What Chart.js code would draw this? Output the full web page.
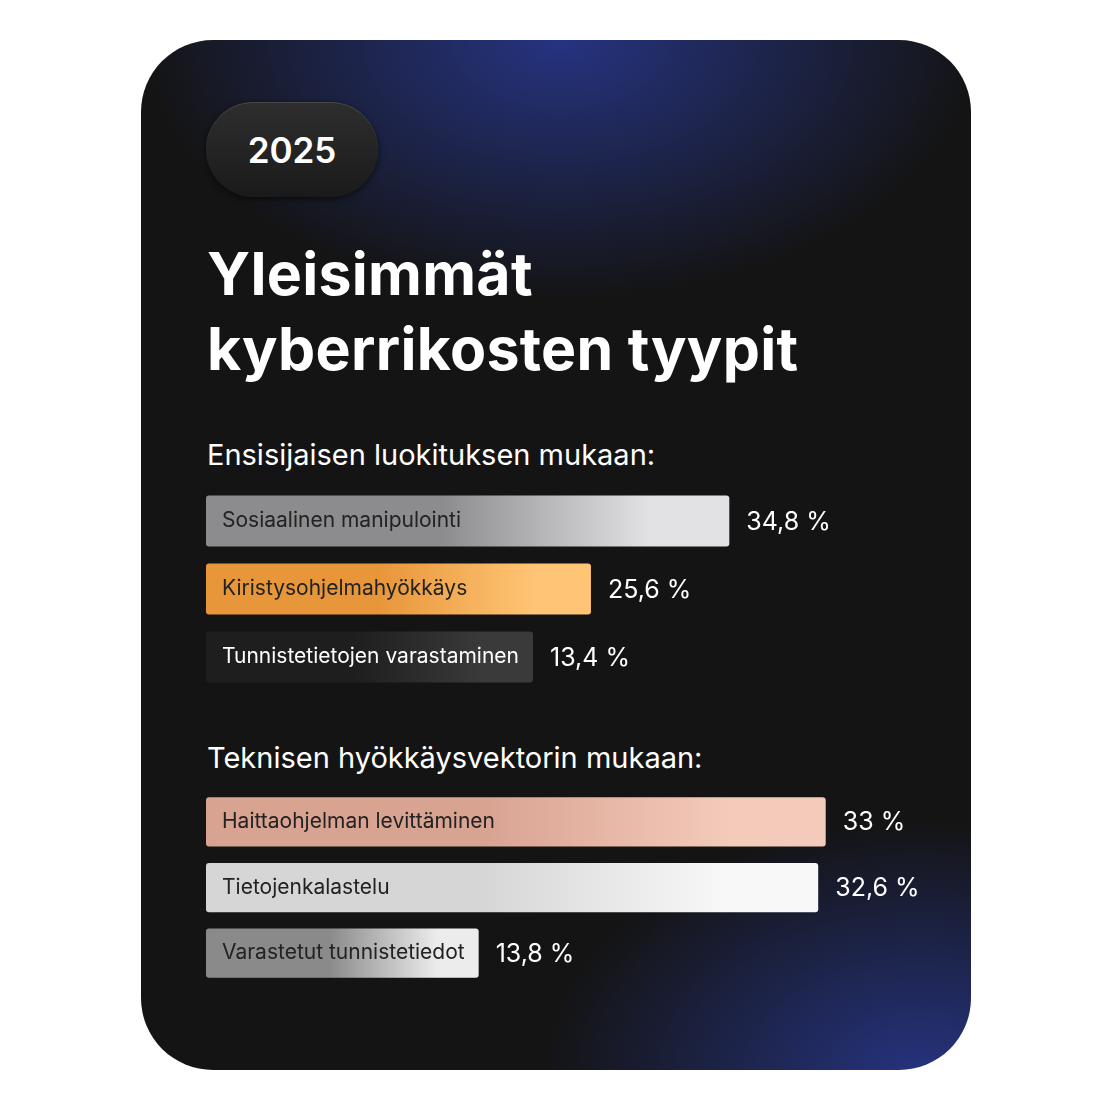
<!DOCTYPE html>
<html><head><meta charset="utf-8">
<script src="https://cdn.jsdelivr.net/npm/chart.js@4/dist/chart.umd.min.js"></script>
<style>
body{margin:0;width:1111px;height:1110px;background:#fff;font-family:Inter,sans-serif;position:relative;overflow:hidden}
.card{position:absolute;left:141px;top:40px;width:830px;height:1030px;border-radius:72px;overflow:hidden;
background:radial-gradient(ellipse 420px 260px at 420px 0px,rgba(40,55,140,.9),rgba(40,55,140,0) 100%),
radial-gradient(ellipse 380px 260px at 780px 1040px,rgba(40,55,140,.9),rgba(40,55,140,0) 100%),#141414}
.pill{position:absolute;left:206px;top:102px;width:172px;height:95px;border-radius:48px;background:linear-gradient(180deg,#2e2e2e,#1a1a1a);
box-shadow:0 2px 6px rgba(0,0,0,.6),inset 0 1px 0 rgba(255,255,255,.12);color:#fff;font-size:35px;font-weight:600;display:flex;align-items:center;justify-content:center}
.t{position:absolute;left:207px;color:#fff;font-weight:700;font-size:59px;line-height:75px;top:236px;letter-spacing:.3px}
.s{position:absolute;left:207px;color:#fff;font-size:29px}
canvas{position:absolute}
</style></head><body>
<div class="card"></div>
<div class="pill">2025</div>
<div class="t">Yleisimmät<br>kyberrikosten tyypit</div>
<div class="s" style="top:437px">Ensisijaisen luokituksen mukaan:</div>
<div class="s" style="top:740px">Teknisen hyökkäysvektorin mukaan:</div>
<div style="position:absolute;left:206px;top:487px;width:800px;height:204px"><canvas id="c1"></canvas></div>
<div style="position:absolute;left:206px;top:789px;width:800px;height:197px"><canvas id="c2"></canvas></div>
<script>
const primaryLabels = ['Sosiaalinen manipulointi', 'Kiristysohjelmahyökkäys', 'Tunnistetietojen varastaminen'];
const primaryValues = [34.8, 25.6, 13.4];
const vectorLabels = ['Haittaohjelman levittäminen', 'Tietojenkalastelu', 'Varastetut tunnistetiedot'];
const vectorValues = [33, 32.6, 13.8];

const primaryColors = [['#8c8c8e', '#e2e2e4'], ['#e8963a', '#ffc474'], ['#1e1e1e', '#3a3a3a']];
const vectorColors = [['#d9a392', '#f4cbbb'], ['#d6d6d6', '#f8f8f8'], ['#8a8a8a', '#ececec']];
const primaryText = ['#222', '#222', '#fff'];
const vectorText = ['#222', '#222', '#222'];

const fmt = v => String(v).replace('.', ',') + ' %';

function barPlugin(labels, colors, textColors) {
    return {
        id: 'bars',
        beforeDatasetDraw(chart) {
            const ctx = chart.ctx;
            ctx.font = '21px Inter';
            chart.getDatasetMeta(0).data.forEach((el, i) => {
                const need = el.base + ctx.measureText(labels[i]).width + 30;
                if (el.x < need) el.x = need;
                const g = ctx.createLinearGradient(el.base, 0, el.x, 0);
                g.addColorStop(0, colors[i][0]);
                g.addColorStop(0.45, colors[i][0]);
                g.addColorStop(0.85, colors[i][1]);
                g.addColorStop(1, colors[i][1]);
                el.options = Object.assign({}, el.options, { backgroundColor: g, borderRadius: 3, borderWidth: 0 });
            });
        },
        afterDatasetDraw(chart) {
            const ctx = chart.ctx;
            const vals = chart.data.datasets[0].data;
            chart.getDatasetMeta(0).data.forEach((el, i) => {
                ctx.textBaseline = 'middle';
                ctx.font = '21px Inter';
                ctx.fillStyle = textColors[i];
                ctx.fillText(labels[i], el.base + 16, el.y);
                ctx.font = '25px Inter';
                ctx.fillStyle = '#fff';
                ctx.fillText(fmt(vals[i]), el.x + 17, el.y + 1);
            });
        }
    };
}

function makeChart(id, labels, values, max, colors, textColors) {
    new Chart(document.getElementById(id), {
        type: 'bar',
        data: { labels: labels, datasets: [{ data: values, borderRadius: 3, borderSkipped: false,
            barPercentage: 0.75, categoryPercentage: 1 }] },
        options: {
            indexAxis: 'y', responsive: true, maintainAspectRatio: false, animation: false,
            layout: { padding: 0 },
            plugins: { legend: { display: false }, tooltip: { enabled: false } },
            scales: {
                x: { display: false, min: 0, max: max },
                y: { display: false }
            }
        },
        plugins: [barPlugin(labels, colors, textColors)]
    });
}

makeChart('c1', primaryLabels, primaryValues, 53.2, primaryColors, primaryText);
makeChart('c2', vectorLabels, vectorValues, 42.6, vectorColors, vectorText);
</script>
</body></html>
